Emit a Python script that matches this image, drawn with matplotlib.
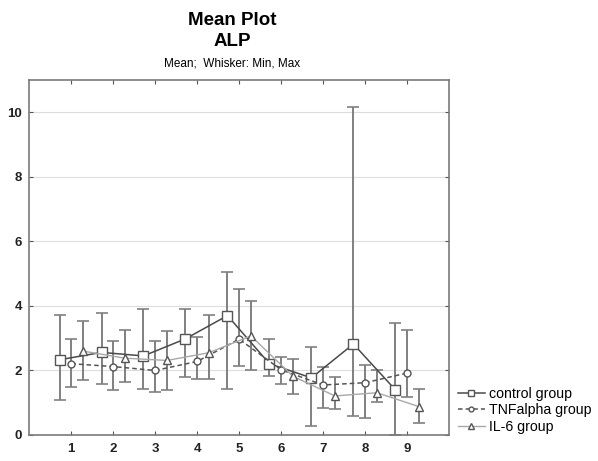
import matplotlib
matplotlib.use("Agg")
import matplotlib.pyplot as plt
import numpy as np

plt.rcParams['font.family'] = ['Liberation Sans', 'DejaVu Sans']

groups = [1, 2, 3, 4, 5, 6, 7, 8, 9]
series_names = ["control group", "TNFalpha group", "IL-6 group"]

control_mean = [2.33, 2.56, 2.45, 2.98, 3.70, 2.21, 1.77, 2.82, 1.40]
control_min = [1.07, 1.57, 1.44, 1.79, 1.43, 1.82, 0.28, 0.60, 0.00]
control_max = [3.71, 3.77, 3.90, 3.90, 5.05, 2.97, 2.73, 10.15, 3.47]

tnf_mean = [2.21, 2.12, 2.00, 2.28, 2.97, 2.02, 1.55, 1.62, 1.92]
tnf_min = [1.48, 1.40, 1.33, 1.74, 2.13, 1.59, 0.85, 0.54, 1.19]
tnf_max = [2.97, 2.91, 2.90, 3.05, 4.52, 2.41, 2.11, 2.18, 3.26]

il6_mean = [2.60, 2.38, 2.31, 2.55, 3.07, 1.82, 1.21, 1.31, 0.88]
il6_min = [1.71, 1.65, 1.40, 1.75, 2.00, 1.27, 0.81, 1.02, 0.38]
il6_max = [3.53, 3.25, 3.21, 3.72, 4.14, 2.36, 1.80, 2.00, 1.42]

fig = plt.figure(figsize=(5.98, 4.61), dpi=100)
ax = fig.add_axes([0.049, 0.0564, 0.702, 0.770])

x = np.array(groups, dtype=float)
specs = [
    (control_mean, control_min, control_max, -0.28, dict(color='#4a4a4a', ls='-', lw=1.1, marker='s', ms=7)),
    (tnf_mean, tnf_min, tnf_max, 0.0, dict(color='#555555', ls=(0, (3, 2)), lw=1.1, marker='o', ms=5)),
    (il6_mean, il6_min, il6_max, 0.28, dict(color='#a8a8a8', ls='-', lw=1.0, marker='^', ms=6)),
]

handles = []
for (m, lo, hi, off, st), name in zip(specs, series_names):
    m = np.array(m); lo = np.array(lo); hi = np.array(hi)
    xs = x + off
    ax.errorbar(xs, m, yerr=[m - lo, hi - m], fmt='none', ecolor='#808080',
                elinewidth=1.4, capsize=4, capthick=1.2, zorder=2)
    h, = ax.plot(xs, m, color=st['color'], ls=st['ls'], lw=st['lw'], marker=st['marker'],
                 ms=st['ms'], mfc='white', mec='#555555', mew=1.0, zorder=3, label=name)
    handles.append(h)

ax.set_xlim(0, 10)
ax.set_ylim(0, 11)
ax.set_xticks(groups)
ax.set_xticklabels([str(g) for g in groups], fontsize=9.5, fontweight='bold')
ax.set_yticks([0, 2, 4, 6, 8, 10])
ax.set_yticklabels(['0', '2', '4', '6', '8', '10'], fontsize=9.5, fontweight='bold')
ax.tick_params(direction='in', length=3, width=0.8, colors='#555555', labelcolor='#222222',
               top=True, right=True, labeltop=False, labelright=False)
ax.tick_params(axis='x', pad=6)
ax.tick_params(axis='y', pad=5)
ax.yaxis.grid(True, color='#dddddd', lw=0.8)
ax.set_axisbelow(True)
for s in ax.spines.values():
    s.set_color('#7a7a7a')
    s.set_linewidth(1.2)

fig.text(0.388, 0.955, "Mean Plot", ha='center', va='center', fontsize=13.5, fontweight='bold')
fig.text(0.388, 0.91, "ALP", ha='center', va='center', fontsize=13.5, fontweight='bold')
fig.text(0.388, 0.863, "Mean;  Whisker: Min, Max", ha='center', va='center', fontsize=8.5)

fig.legend(handles=handles, labels=series_names, loc='upper left',
           bbox_to_anchor=(0.763, 0.163), frameon=False, fontsize=10.2,
           handlelength=1.9, handletextpad=0.3, labelspacing=0.15, borderpad=0.1,
           borderaxespad=0.0, markerscale=0.7)

fig.savefig("out.png", dpi=100)
